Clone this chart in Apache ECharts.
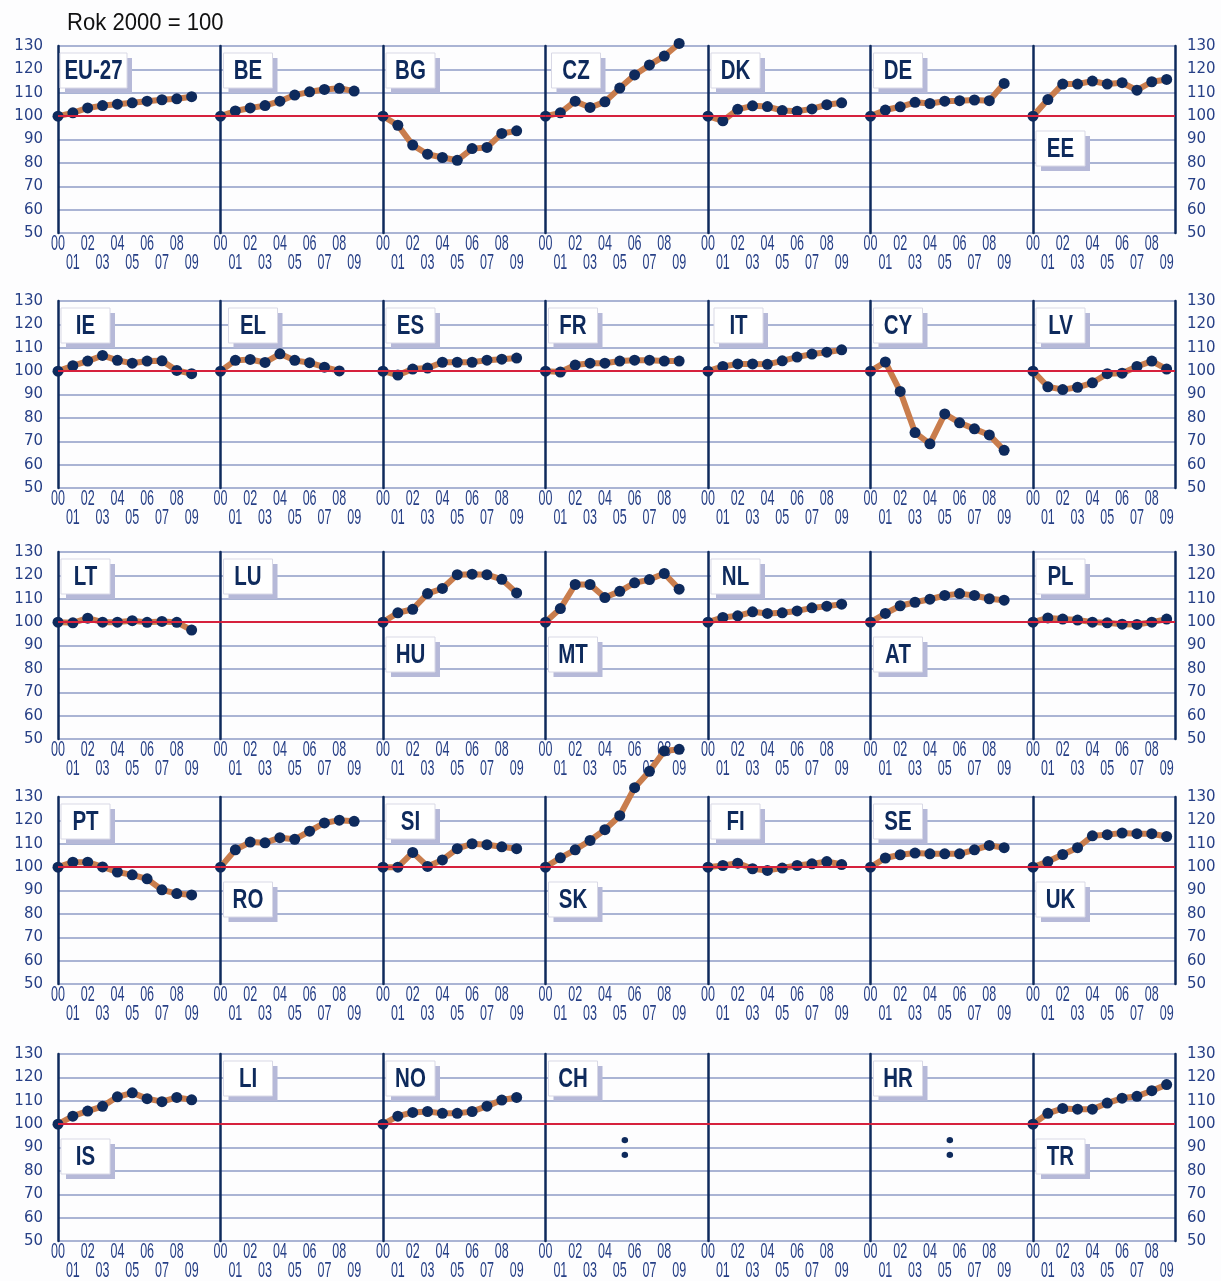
<!DOCTYPE html>
<html>
<head>
<meta charset="utf-8">
<script src="https://cdn.jsdelivr.net/npm/echarts@6/dist/echarts.min.js"></script>
<style>
  html, body { margin: 0; padding: 0; background: #fdfdfe; }
  #chart { width: 1221px; height: 1281px; }
</style>
</head>
<body>
<div id="chart"></div>
<script>
// Index of real consumption per capita, year 2000 = 100
const years = [2000, 2001, 2002, 2003, 2004, 2005, 2006, 2007, 2008, 2009];

const EU27 = [100, 101.4, 103.5, 104.5, 105.1, 105.7, 106.4, 107.0, 107.4, 108.3];
const BE   = [100, 102.2, 103.5, 104.5, 106.4, 109.0, 110.4, 111.4, 111.9, 110.7];
const BG   = [100, 96.1, 87.6, 83.7, 82.3, 81.1, 86.1, 86.6, 92.6, 93.7];
const CZ   = [100, 101.4, 106.4, 103.7, 106.1, 112.0, 117.6, 121.9, 125.7, 131.1];
const DK   = [100, 98.0, 102.9, 104.4, 104.1, 102.4, 102.1, 103.1, 104.9, 105.7];
const DE   = [100, 102.6, 104.0, 105.9, 105.4, 106.4, 106.6, 106.9, 106.6, 114.0];
const EE   = [100, 107.1, 113.7, 113.7, 115.0, 113.7, 114.3, 111.1, 114.7, 115.7];
const IE   = [100, 102.3, 104.3, 106.7, 104.6, 103.4, 104.3, 104.4, 100.3, 98.9];
const EL   = [100, 104.6, 105.0, 103.7, 107.4, 104.6, 103.6, 101.7, 100.1, null];
const ES   = [100, 98.3, 100.9, 101.3, 103.8, 103.8, 103.8, 104.7, 105.1, 105.6];
const FR   = [100, 99.6, 102.6, 103.4, 103.4, 104.3, 104.7, 104.7, 104.3, 104.3];
const IT   = [100, 102.0, 103.1, 103.1, 102.9, 104.4, 106.0, 107.3, 108.1, 109.1];
const CY   = [100, 103.9, 91.3, 73.7, 68.9, 81.7, 77.9, 75.3, 72.7, 66.1];
const LV   = [100, 93.3, 92.1, 93.1, 95.0, 98.9, 99.1, 102.0, 104.3, 100.9];
const LT   = [100, 99.7, 101.7, 100.0, 100.0, 100.6, 99.9, 100.3, 99.9, 96.6];
const HU   = [100, 104.0, 105.5, 112.2, 114.4, 120.3, 120.5, 120.3, 118.3, 112.5];
const MT   = [100, 105.8, 116.1, 116.1, 110.5, 113.2, 116.8, 118.2, 120.8, 114.1];
const NL   = [100, 102.0, 102.7, 104.4, 103.7, 104.0, 104.8, 106.1, 106.8, 107.7];
const AT   = [100, 103.7, 107.0, 108.5, 109.8, 111.4, 112.2, 111.4, 110.0, 109.4];
const PL   = [100, 101.8, 101.3, 100.9, 100.0, 99.7, 99.1, 99.0, 100.0, 101.3];
const PT   = [100, 102.1, 102.1, 100.1, 97.9, 96.7, 95.0, 90.3, 88.7, 88.1];
const RO   = [100, 107.4, 110.7, 110.4, 112.6, 111.9, 115.4, 118.9, 120.1, 119.6];
const SI   = [100, 100.0, 106.3, 100.3, 103.1, 107.9, 110.0, 109.6, 108.7, 107.9];
const SK   = [100, 104.0, 107.4, 111.4, 116.0, 122.0, 134.0, 141.0, 149.7, 150.4];
const FI   = [100, 100.7, 101.7, 99.3, 98.6, 99.6, 100.7, 101.4, 102.4, 101.1];
const SE   = [100, 103.9, 105.3, 106.0, 105.7, 105.7, 105.7, 107.4, 109.3, 108.3];
const UK   = [100, 102.4, 105.4, 108.3, 113.4, 113.9, 114.6, 114.3, 114.3, 113.1];
const IS   = [100, 103.4, 105.6, 107.6, 111.7, 113.4, 110.9, 109.6, 111.4, 110.4];
const NO   = [100, 103.4, 105.0, 105.4, 104.6, 104.6, 105.4, 107.7, 110.3, 111.4];
const TR   = [100, 104.6, 106.7, 106.4, 106.4, 109.0, 111.1, 111.9, 114.3, 116.9];

const yTicks = [50, 60, 70, 80, 90, 100, 110, 120, 130];
const baseValue = 100;
const titleText = 'Rok 2000 = 100';

// Panel grid, row by row ('' = empty panel)
const panelRows = [
  ['EU-27', 'BE', 'BG', 'CZ', 'DK', 'DE', 'EE'],
  ['IE', 'EL', 'ES', 'FR', 'IT', 'CY', 'LV'],
  ['LT', 'LU', 'HU', 'MT', 'NL', 'AT', 'PL'],
  ['PT', 'RO', 'SI', 'SK', 'FI', 'SE', 'UK'],
  ['IS', 'LI', 'NO', 'CH', '', 'HR', 'TR']
];
const seriesByCode = {
  'EU-27': EU27, BE, BG, CZ, DK, DE, EE, IE, EL, ES, FR, IT, CY, LV,
  LT, HU, MT, NL, AT, PL, PT, RO, SI, SK, FI, SE, UK, IS, NO, TR
};
// countries shown with ':' (data not available)
const notAvailable = ['CH', 'HR'];
// panels whose name box sits below the base line
const lowLabels = ['EE', 'HU', 'MT', 'AT', 'RO', 'SK', 'UK', 'IS', 'TR'];

// ---- layout & style ----
const NAVY = '#0e2a5c';
const LABEL_NAVY = '#263f86';
const GRID_LINE = '#8e9bc6';
const RED = '#d6213d';
const ORANGE = '#c97d4d';
const PX_PER_YEAR = 14.85;
const LEFT0 = 58, COL_W = 162.5, LAST_W = 142;
const ROW_TOP = [46, 301, 552, 797, 1054];
const PLOT_H = 187;
const SANS = '"Liberation Sans", Arial, sans-serif';

const grids = [], xAxes = [], yAxes = [], series = [], boxGraphics = [];
const yIndexOfGrid = [];

panelRows.forEach((row, r) => {
  row.forEach((code, c) => {
    const left = LEFT0 + c * COL_W;
    const width = c < 6 ? COL_W : LAST_W;
    const gi = grids.length;
    grids.push({ left, top: ROW_TOP[r], width, height: PLOT_H });

    xAxes.push({
      gridIndex: gi, type: 'value', min: 2000, max: 2000 + width / PX_PER_YEAR, interval: 1,
      axisLine: { show: false }, axisTick: { show: false }, splitLine: { show: false },
      axisLabel: { show: false }
    });

    const yi = yAxes.length;
    yIndexOfGrid.push(yi);
    yAxes.push({
      gridIndex: gi, type: 'value', min: yTicks[0], max: yTicks[yTicks.length - 1], interval: 10,
      axisLine: { show: true, lineStyle: { color: NAVY, width: 2.5 } },
      axisTick: { show: false },
      splitLine: { show: true, lineStyle: { color: GRID_LINE, width: 1.5 } },
      axisLabel: { show: c === 0, margin: 15, color: LABEL_NAVY, fontFamily: 'DejaVu Sans', fontSize: 15 }
    });
    if (c === 6) {
      yAxes.push({
        gridIndex: gi, type: 'value', position: 'right', min: yTicks[0], max: yTicks[yTicks.length - 1], interval: 10,
        axisLine: { show: true, lineStyle: { color: NAVY, width: 2.5 } },
        axisTick: { show: false }, splitLine: { show: false },
        axisLabel: { show: true, margin: 12, color: LABEL_NAVY, fontFamily: 'DejaVu Sans', fontSize: 15 }
      });
    }

    // base line (2000 = 100) and "not available" sign
    const ref = {
      type: 'line', xAxisIndex: gi, yAxisIndex: yi, data: [], z: 1, silent: true,
      markLine: {
        silent: true, symbol: ['none', 'none'], label: { show: false },
        lineStyle: { color: RED, width: 2, type: 'solid' },
        data: [{ yAxis: baseValue }], animation: false
      }
    };
    if (notAvailable.includes(code)) {
      ref.markPoint = {
        symbol: 'circle', symbolSize: 1, itemStyle: { color: 'rgba(0,0,0,0)' },
        label: { show: true, position: 'inside', formatter: ':', fontSize: 38, fontWeight: 'bold', color: NAVY, fontFamily: '"Noto Sans"' },
        data: [{ coord: [2005.35, 90] }], animation: false
      };
    }
    series.push(ref);

    const values = seriesByCode[code];
    if (values) {
      series.push({
        type: 'line', name: code, xAxisIndex: gi, yAxisIndex: yi, z: 3, clip: false,
        data: years.map((y, k) => [y, values[k]]),
        symbol: 'circle', symbolSize: 11, showSymbol: true,
        lineStyle: { color: ORANGE, width: 6 },
        itemStyle: { color: NAVY },
        animation: false
      });
    }

    // country name box
    if (code) {
      const w = code.length > 2 ? 67 : 49;
      const h = 35;
      const dx = code === 'EU-27' ? 2 : (code === 'EL' ? 8 : (code === 'IT' || code === 'CZ' ? 6 : 3));
      const y = ROW_TOP[r] + (lowLabels.includes(code) ? 85 : 7);
      boxGraphics.push({
        type: 'group', x: left + dx, y, z: 10, silent: true,
        children: [
          { type: 'rect', z: 10, shape: { x: 5, y: 5, width: w, height: h }, style: { fill: '#b6b9d8', lineWidth: 0 } },
          { type: 'rect', z: 11, shape: { x: 0, y: 0, width: w, height: h }, style: { fill: '#ffffff', stroke: '#d9d9e6', lineWidth: 1 } },
          { type: 'text', z: 12, x: w / 2, y: h / 2 + 1, scaleX: 0.76,
            style: {
              text: code, x: 0, y: 0, align: 'center', verticalAlign: 'middle',
              font: 'bold 27px ' + SANS, fill: NAVY, stroke: null, lineWidth: 0
            } }
        ]
      });
    }
  });
});

const chart = echarts.init(document.getElementById('chart'), null, { renderer: 'canvas' });
chart.setOption({
  backgroundColor: '#fdfdfe',
  animation: false,
  grid: grids,
  xAxis: xAxes,
  yAxis: yAxes,
  series
});

// Year tick labels in a condensed face: even years on the first line, odd years staggered below
const tickGraphics = [];
grids.forEach((g, gi) => {
  years.forEach(year => {
    const p = chart.convertToPixel({ xAxisIndex: gi, yAxisIndex: yIndexOfGrid[gi] }, [year, yTicks[0]]);
    const odd = year % 2 === 1;
    tickGraphics.push({
      type: 'text', x: p[0], y: p[1] + (odd ? 30 : 11), scaleX: 0.57, z: 1, silent: true,
      style: {
        text: String(year).slice(2), x: 0, y: 0, align: 'center', verticalAlign: 'middle',
        font: '22px ' + SANS, fill: LABEL_NAVY, stroke: null, lineWidth: 0
      }
    });
  });
});

const titleGraphic = {
  type: 'text', x: 67, y: 23, scaleX: 0.92, z: 5, silent: true,
  style: { text: titleText, x: 0, y: 0, align: 'left', verticalAlign: 'middle', font: '24px ' + SANS, fill: '#111111' }
};

chart.setOption({ graphic: [titleGraphic].concat(boxGraphics, tickGraphics) });
</script>
</body>
</html>
